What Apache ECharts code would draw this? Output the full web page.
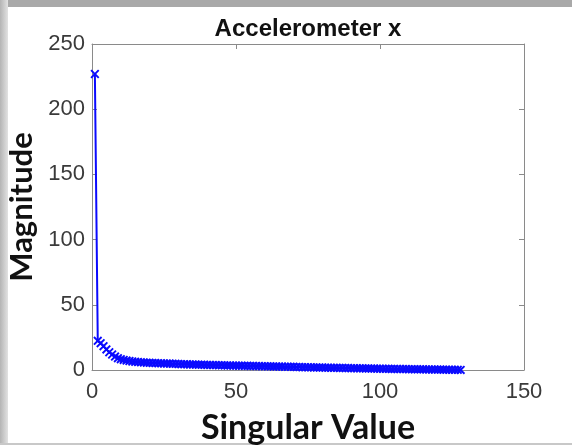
<!DOCTYPE html>
<html>
<head>
<meta charset="utf-8">
<script src="https://cdn.jsdelivr.net/npm/echarts@6/dist/echarts.min.js"></script>
<style>
  html, body { margin: 0; padding: 0; background: #ffffff; }
  #chart { width: 572px; height: 445px; }
</style>
</head>
<body>
<div id="chart"></div>
<script>
// Singular values of the accelerometer x signal, in order (index 1..128)
const singularIndex = Array.from({ length: 128 }, (_, i) => i + 1);
const magnitudes = [
  227.0, 22.4, 20.6, 18.3, 15.8, 13.6, 11.9, 10.3, 9.1, 8.3,
  7.7, 7.2, 6.9, 6.5, 6.3, 6.1, 5.9, 5.8, 5.6, 5.5,
  5.4, 5.3, 5.2, 5.1, 5.0, 4.9, 4.9, 4.8, 4.7, 4.6,
  4.5, 4.5, 4.4, 4.3, 4.3, 4.2, 4.1, 4.1, 4.0, 3.9,
  3.9, 3.8, 3.8, 3.7, 3.7, 3.6, 3.5, 3.5, 3.4, 3.4,
  3.3, 3.3, 3.2, 3.2, 3.1, 3.1, 3.0, 3.0, 2.9, 2.9,
  2.8, 2.8, 2.7, 2.7, 2.6, 2.6, 2.5, 2.5, 2.4, 2.4,
  2.3, 2.3, 2.2, 2.2, 2.1, 2.1, 2.0, 2.0, 1.9, 1.9,
  1.8, 1.8, 1.7, 1.7, 1.7, 1.6, 1.6, 1.5, 1.5, 1.4,
  1.4, 1.3, 1.3, 1.3, 1.2, 1.2, 1.1, 1.1, 1.0, 1.0,
  0.95, 0.92, 0.88, 0.85, 0.81, 0.78, 0.75, 0.71, 0.68, 0.65,
  0.62, 0.58, 0.55, 0.52, 0.49, 0.46, 0.43, 0.40, 0.37, 0.34,
  0.31, 0.28, 0.25, 0.22, 0.19, 0.16, 0.12, 0.08
];
const xTicks = [0, 50, 100, 150];
const yTicks = [0, 50, 100, 150, 200, 250];

const frameColor = '#8a8a8a';
const tickText = '#3a3a3a';
const tickFont = '"Liberation Sans", Arial, sans-serif';
const nameFont = 'Lato, "Open Sans", sans-serif';

// filled "x" marker
const crossSymbol = 'path://M0,1.5L1.5,0L5,3.5L8.5,0L10,1.5L6.5,5L10,8.5L8.5,10L5,6.5L1.5,10L0,8.5L3.5,5Z';

const chart = echarts.init(document.getElementById('chart'), null, { renderer: 'canvas' });

const baseAxis = {
  type: 'value',
  axisLine: { show: true, onZero: false, lineStyle: { color: frameColor, width: 1 } },
  axisTick: { show: true, inside: true, length: 5, lineStyle: { color: frameColor, width: 1 } },
  splitLine: { show: false }
};

chart.setOption({
  animation: false,
  backgroundColor: '#ffffff',
  title: {
    text: 'Accelerometer x',
    left: 303,
    top: 12,
    textAlign: 'center',
    textStyle: { fontFamily: tickFont, fontWeight: 'bold', fontSize: 24, color: '#111111' }
  },
  grid: { left: 92, right: 48, top: 44, bottom: 75, containLabel: false, outerBoundsMode: 'none' },
  xAxis: [
    Object.assign({}, baseAxis, {
      position: 'bottom',
      min: xTicks[0], max: xTicks[xTicks.length - 1], interval: 50,
      axisLabel: { margin: 11, fontFamily: tickFont, fontSize: 22, color: tickText },
      name: 'Singular Value',
      nameLocation: 'middle',
      nameGap: 41,
      nameTextStyle: { fontFamily: nameFont, fontWeight: 'bold', fontSize: 34, color: '#111111' }
    }),
    Object.assign({}, baseAxis, {
      position: 'top',
      min: xTicks[0], max: xTicks[xTicks.length - 1], interval: 50,
      axisLabel: { show: false }
    })
  ],
  yAxis: [
    Object.assign({}, baseAxis, {
      position: 'left',
      min: yTicks[0], max: yTicks[yTicks.length - 1], interval: 50,
      axisLabel: { margin: 7, fontFamily: tickFont, fontSize: 22, color: tickText },
      name: 'Magnitude',
      nameLocation: 'middle',
      nameRotate: 90,
      nameGap: 52,
      nameTextStyle: { fontFamily: nameFont, fontWeight: 'bold', fontSize: 31, color: '#111111' }
    }),
    Object.assign({}, baseAxis, {
      position: 'right',
      min: yTicks[0], max: yTicks[yTicks.length - 1], interval: 50,
      axisLabel: { show: false }
    })
  ],
  series: [{
    type: 'line',
    xAxisIndex: 0,
    yAxisIndex: 0,
    data: singularIndex.map((k, i) => [k, magnitudes[i]]),
    symbol: crossSymbol,
    symbolSize: 9,
    showAllSymbol: true,
    lineStyle: { color: '#0a0aff', width: 2 },
    itemStyle: { color: '#0a0aff' }
  }],
  graphic: [
    // window frame shading around the figure
    { type: 'rect', left: 0, top: 0, shape: { width: 572, height: 7 }, style: { fill: '#a9a9a9' }, silent: true },
    {
      type: 'rect', left: 0, top: 0, shape: { width: 8, height: 445 }, silent: true,
      style: {
        fill: new echarts.graphic.LinearGradient(0, 0, 1, 0, [
          { offset: 0, color: '#b4b4b4' },
          { offset: 1, color: '#e2e2e2' }
        ])
      }
    },
    { type: 'rect', left: 0, top: 443, shape: { width: 572, height: 2 }, style: { fill: '#c8c8c8' }, silent: true }
  ]
});
</script>
</body>
</html>
